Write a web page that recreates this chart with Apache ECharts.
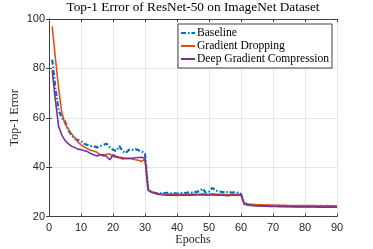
<!DOCTYPE html>
<html><head><meta charset="utf-8">
<script src="https://cdn.jsdelivr.net/npm/echarts@6/dist/echarts.min.js"></script>
<style>html,body{margin:0;padding:0;background:#fff;}#c{width:373px;height:249px;}</style>
</head><body><div id="c"></div>
<script>
const epochs = Array.from({length: 90}, (_, i) => i + 1);
const baseline = [83.5,72,63,60,58.5,55,53,51.5,51,50.5,49.5,49,48.5,48.5,48,48.5,49,49.5,48,47,46.5,48.5,46.5,45.7,47,47,47.3,46.8,46.4,45.5,
30.8,30,29.6,29.5,29.4,29.5,29.6,29.4,29.5,29.3,29.5,29.4,29.6,29.8,29.5,30,30.2,31.3,29.6,30,31.6,30.6,30.2,30,29.6,30,29.7,29.8,29.6,29.2,
25.4,25,24.8,24.7,24.6,24.5,24.5,24.4,24.4,24.4,24.3,24.3,24.3,24.2,24.2,24.2,24.2,24.1,24.2,24.1,24.1,24.1,24.1,24.1,24.0,24.1,24.0,24.0,24.0,24.0];
const gradDrop = [97,84,72,62,57.5,55.5,53.5,52,50.2,49,48.2,47.5,46.8,46.5,46,45,44.5,45.2,45.4,44.3,44,43.8,43.3,43.4,43.5,43.3,43,42.8,42.3,43.3,
31,30,29.5,29.3,29.2,29.1,29,29.1,29,28.9,29,29,28.9,29,29.1,29,29,29.2,29,29,29.2,29.1,29,29,28.9,28.8,29,28.9,29,29,
25.2,25,24.9,24.8,24.7,24.7,24.6,24.6,24.6,24.5,24.5,24.5,24.5,24.5,24.4,24.4,24.4,24.4,24.4,24.4,24.4,24.4,24.4,24.3,24.4,24.3,24.4,24.3,24.3,24.3];
const dgc = [79.3,67,56.5,53,50.8,49.5,48.5,48,47.3,47,46.6,46.3,45.5,45,44.5,45,45,44.3,43,45,44.3,44,43.8,43.6,43.6,43.6,43.8,43.9,44,43.5,
30.6,29.8,29.4,29,28.8,28.7,28.6,28.7,28.6,28.5,28.6,28.7,28.6,28.7,28.6,28.8,28.7,28.8,28.6,28.7,28.8,28.6,28.7,28.6,28.5,28.4,28.6,28.7,28.5,28.8,
25,24.7,24.5,24.4,24.3,24.3,24.2,24.2,24.1,24.1,24.1,24,24,24,24,23.9,24,23.9,23.9,23.9,23.9,23.9,23.9,23.8,23.9,23.8,23.8,23.8,23.8,23.8];
const seriesNames = ['Baseline', 'Gradient Dropping', 'Deep Gradient Compression'];
const xMin = 0, xMax = 90, xStep = 10;
const yMin = 20, yMax = 100, yStep = 20;

const serif = 'Liberation Serif';
const sans = 'Liberation Sans';
const axisCol = '#404040';
function pairs(arr){ return epochs.map((e,i)=>[e, arr[i]]); }
const chart = echarts.init(document.getElementById('c'), null, {renderer:'canvas'});
const baseX = {type:'value', min:xMin, max:xMax, interval:xStep,
  axisLine:{show:true, lineStyle:{color:axisCol, width:1}},
  axisTick:{show:true, inside:true, length:3, lineStyle:{color:axisCol}}};
const baseY = {type:'value', min:yMin, max:yMax, interval:yStep,
  axisLine:{show:true, lineStyle:{color:axisCol, width:1}},
  axisTick:{show:true, inside:true, length:3, lineStyle:{color:axisCol}}};
chart.setOption({
  animation:false,
  title:{text:'Top-1 Error of ResNet-50 on ImageNet Dataset', left:193, textAlign:'center', top:1, padding:0,
    textStyle:{fontFamily:serif, fontSize:13.3, fontWeight:'normal', color:'#000'}},
  grid:{left:49, right:36, top:19, bottom:32.5, show:false, outerBoundsMode:'none', containLabel:false},
  legend:{data:seriesNames, orient:'vertical', right:41, top:24, itemWidth:14, itemHeight:8, itemGap:1,
    padding:[3,3,3,2], borderColor:axisCol, borderWidth:1, backgroundColor:'#fff',
    itemStyle:{opacity:0},
    textStyle:{fontFamily:serif, fontSize:11.6, color:'#000', padding:[0,0,0,-3]}},
  xAxis:[Object.assign({}, baseX, {position:'bottom',
      axisLabel:{fontFamily:sans, fontSize:11, color:'#262626', margin:6},
      splitLine:{show:true, lineStyle:{color:'#e6e6e6', width:1}},
      name:'Epochs', nameLocation:'middle', nameGap:17, nameMoveOverlap:false,
      nameTextStyle:{fontFamily:serif, fontSize:12, color:'#262626'}}),
    Object.assign({}, baseX, {position:'top', axisLabel:{show:false}, splitLine:{show:false}})],
  yAxis:[Object.assign({}, baseY, {position:'left',
      axisLabel:{fontFamily:sans, fontSize:11, color:'#262626', margin:4},
      splitLine:{show:true, lineStyle:{color:'#e6e6e6', width:1}},
      name:'Top-1 Error', nameLocation:'middle', nameGap:28, nameMoveOverlap:false,
      nameTextStyle:{fontFamily:serif, fontSize:12, color:'#262626'}}),
    Object.assign({}, baseY, {position:'right', axisLabel:{show:false}, splitLine:{show:false}})],
  series:[
    {name:seriesNames[0], type:'line', data:pairs(baseline), showSymbol:false, symbol:'none', z:3,
      lineStyle:{color:'#0072BD', width:2.2, type:[5,2,1.5,2]}, itemStyle:{color:'#0072BD'}},
    {name:seriesNames[1], type:'line', data:pairs(gradDrop), showSymbol:false, symbol:'none', z:4,
      lineStyle:{color:'#D95319', width:1.6}, itemStyle:{color:'#D95319'}},
    {name:seriesNames[2], type:'line', data:pairs(dgc), showSymbol:false, symbol:'none', z:5,
      lineStyle:{color:'#7E2F8E', width:1.6}, itemStyle:{color:'#7E2F8E'}}
  ]
});
</script></body></html>
